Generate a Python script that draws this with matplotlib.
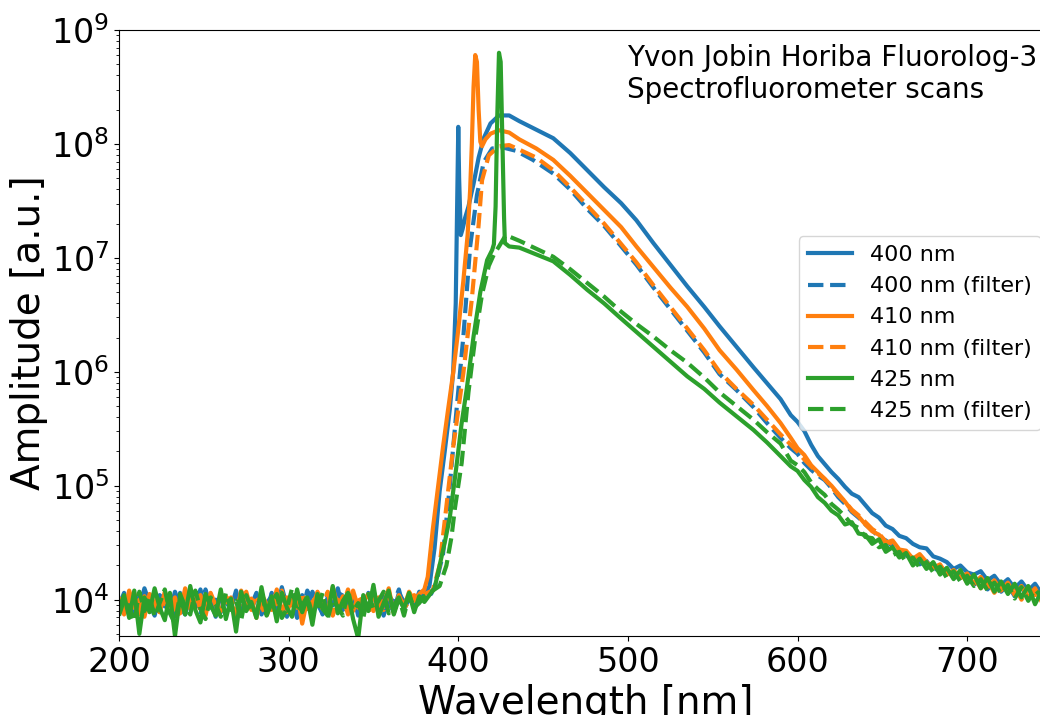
import matplotlib
matplotlib.use("Agg")
import matplotlib.pyplot as plt
import numpy as np

# log10(amplitude), three parts per scan:
# flat noise floor 200-380 nm, main emission band, noisy tail 600-744 nm

# ---- noise floor (even spacing 200..380 nm)
base_400 = [3.95, 4.06, 3.88, 4.02, 3.93, 4.10, 3.97, 3.86, 4.04, 3.99,
            3.90, 4.07, 3.94, 3.87, 4.03, 3.96, 4.09, 3.91, 4.00, 3.85,
            4.05, 3.98, 3.92, 4.08, 3.89, 4.01, 3.95, 4.06, 3.87, 3.97,
            4.03, 3.90, 4.11, 3.94, 3.99, 3.84, 4.04, 3.92, 4.07, 3.96,
            3.88, 4.02, 3.95, 4.10, 3.91, 3.98, 4.05, 3.86, 4.00, 3.93,
            4.08, 3.89, 4.03, 3.96, 3.90, 4.06, 3.98, 4.02, 3.94, 4.07, 4.04]
base_400f = [3.90, 4.03, 3.96, 3.86, 4.08, 3.92, 4.01, 3.88, 4.05, 3.94,
             3.99, 3.85, 4.06, 3.91, 4.02, 3.97, 3.87, 4.09, 3.93, 4.00,
             3.89, 4.04, 3.95, 3.86, 4.07, 3.98, 3.91, 4.03, 3.96, 3.88,
             4.06, 3.93, 4.00, 3.85, 4.04, 3.97, 3.90, 4.08, 3.94, 4.01,
             3.87, 4.05, 3.92, 3.99, 4.07, 3.89, 4.02, 3.95, 3.88, 4.06,
             3.93, 4.00, 3.86, 4.04, 3.97, 4.09, 3.91, 4.01, 3.95, 4.03, 4.06]
base_410 = [3.97, 3.87, 4.08, 3.93, 4.00, 3.85, 4.05, 3.96, 3.89, 4.07,
            3.94, 4.02, 3.88, 4.10, 3.92, 3.99, 4.04, 3.86, 4.06, 3.95,
            3.90, 4.03, 3.97, 3.87, 4.08, 3.93, 4.01, 3.84, 4.05, 3.96,
            3.91, 4.09, 3.88, 4.02, 3.95, 4.06, 3.79, 4.00, 3.92, 4.07,
            3.97, 3.89, 4.11, 3.94, 4.03, 3.87, 4.08, 3.93, 3.98, 4.05,
            3.90, 4.02, 3.96, 4.10, 3.88, 4.04, 3.93, 4.07, 3.99, 4.05, 4.09]
base_410f = [4.02, 3.91, 3.98, 4.06, 3.87, 4.03, 3.94, 4.08, 3.89, 3.99,
             4.05, 3.92, 3.86, 4.04, 3.97, 4.09, 3.90, 4.01, 3.95, 3.88,
             4.06, 3.93, 4.02, 3.87, 3.99, 4.07, 3.91, 4.04, 3.94, 3.85,
             4.03, 3.96, 4.08, 3.89, 4.01, 3.93, 4.06, 3.88, 3.98, 4.04,
             3.92, 4.07, 3.86, 4.00, 3.95, 4.09, 3.90, 4.03, 3.94, 3.87,
             4.05, 3.97, 3.91, 4.06, 3.89, 4.02, 3.96, 3.93, 4.04, 4.00, 4.05]
base_425 = [3.92, 4.04, 3.84, 4.08, 3.70, 4.02, 3.89, 4.10, 3.93, 3.82,
            4.06, 3.68, 4.03, 3.87, 4.12, 3.91, 3.80, 4.05, 3.95, 3.86,
            4.09, 3.83, 4.01, 3.72, 4.07, 3.90, 3.98, 3.84, 4.11, 3.88,
            4.03, 3.81, 4.06, 3.93, 3.85, 4.09, 3.89, 4.02, 3.78, 4.05,
            3.92, 3.86, 4.12, 3.88, 3.99, 4.06, 3.83, 3.66, 4.04, 3.90,
            4.13, 3.85, 3.97, 4.08, 3.87, 4.01, 3.92, 4.06, 3.89, 4.03, 3.98]
base_425f = [3.86, 4.00, 3.93, 3.81, 4.07, 3.90, 4.03, 3.85, 3.97, 4.09,
             3.88, 3.79, 4.05, 3.94, 3.87, 4.08, 3.92, 3.83, 4.02, 3.96,
             3.85, 4.06, 3.91, 3.99, 3.82, 4.04, 3.93, 3.88, 4.07, 3.86,
             3.97, 4.05, 3.84, 3.92, 4.10, 3.89, 3.95, 4.03, 3.87, 3.91,
             4.06, 3.83, 4.00, 3.94, 3.86, 4.08, 3.90, 3.97, 3.84, 4.05,
             3.92, 3.99, 4.07, 3.88, 3.95, 4.02, 3.86, 4.04, 3.93, 3.97, 4.03]

# ---- main band (wavelength nm, log10 amplitude)
wl_400 = [383, 386, 389, 392, 395, 397, 398.5, 399.5, 400, 400.5, 401.5, 402.5,
          404, 406, 409, 412, 415, 419, 424, 430, 436, 444, 456, 466, 476,
          486, 496, 505, 515, 525, 535, 545, 554, 564, 574, 582, 590, 596]
amp_400 = [4.12, 4.45, 4.95, 5.30, 5.67, 6.00, 6.60, 7.60, 8.15, 7.70, 7.20, 7.25,
           7.35, 7.45, 7.65, 7.88, 8.05, 8.18, 8.25, 8.25, 8.20, 8.14, 8.05, 7.92, 7.77,
           7.62, 7.48, 7.33, 7.13, 6.94, 6.75, 6.57, 6.40, 6.22, 6.04, 5.90, 5.76, 5.62]

wl_400f = [384, 387, 391, 395, 399, 403, 407, 411, 415, 420, 426, 434, 444,
           456, 466, 476, 486, 495, 505, 515, 525, 535, 545, 554, 564, 574,
           582, 590, 596]
amp_400f = [4.05, 4.15, 4.40, 5.00, 5.67, 6.31, 7.10, 7.55, 7.84, 7.96, 7.97, 7.94, 7.86,
            7.74, 7.60, 7.43, 7.28, 7.12, 6.94, 6.74, 6.55, 6.36, 6.17, 5.98, 5.84, 5.69,
            5.55, 5.42, 5.33]

wl_410 = [382, 385, 388, 391, 394, 397, 400, 403, 405.5, 407, 408, 409, 410,
          411, 412, 413, 414, 416, 419, 424, 430, 436, 446, 456, 466, 476,
          486, 496, 505, 515, 525, 535, 545, 554, 564, 574, 582, 590, 596]
amp_410 = [4.20, 4.62, 4.98, 5.34, 5.67, 5.99, 6.37, 6.80, 7.20, 7.60, 8.00, 8.50, 8.78,
           8.72, 8.30, 8.02, 7.98, 8.04, 8.09, 8.12, 8.10, 8.04, 7.96, 7.86, 7.72, 7.57,
           7.42, 7.27, 7.10, 6.92, 6.74, 6.57, 6.38, 6.19, 6.02, 5.84, 5.70, 5.55, 5.42]

wl_410f = [385, 389, 392, 397, 403, 408, 412, 414, 418, 424, 430, 436, 446,
           456, 466, 476, 486, 495, 505, 515, 525, 535, 545, 554, 564, 574,
           582, 590, 596]
amp_410f = [4.08, 4.30, 4.69, 5.34, 5.99, 6.64, 7.29, 7.68, 7.90, 7.98, 7.99, 7.95, 7.88,
            7.77, 7.62, 7.46, 7.30, 7.14, 6.96, 6.76, 6.57, 6.38, 6.19, 6.00, 5.85, 5.71,
            5.58, 5.45, 5.36]

wl_425 = [386, 389, 392, 395, 399, 402, 405, 409, 413, 417, 420, 421, 422,
          423, 424, 425, 426, 427, 427.5, 430, 436, 446, 456, 466, 476, 486,
          495, 505, 515, 525, 535, 545, 554, 564, 574, 582, 590, 596]
amp_425 = [4.10, 4.30, 4.50, 4.72, 5.18, 5.55, 5.85, 6.31, 6.70, 6.98, 7.07, 7.12, 7.45,
           8.25, 8.80, 8.72, 8.05, 7.35, 7.13, 7.10, 7.09, 7.03, 6.97, 6.85, 6.72, 6.60,
           6.48, 6.35, 6.22, 6.09, 5.96, 5.85, 5.73, 5.61, 5.49, 5.38, 5.26, 5.17]

wl_425f = [389, 393, 396, 398, 402, 406, 410, 414, 418, 421, 424, 428, 436,
           446, 456, 466, 476, 486, 495, 505, 515, 525, 535, 545, 554, 564,
           574, 582, 590, 596]
amp_425f = [4.12, 4.30, 4.55, 4.80, 5.20, 5.82, 6.30, 6.68, 6.93, 7.03, 7.10, 7.20, 7.15,
            7.08, 7.01, 6.90, 6.78, 6.66, 6.54, 6.42, 6.31, 6.19, 6.08, 5.95, 5.82, 5.70,
            5.58, 5.47, 5.37, 5.22]

# ---- tail (even spacing 600..744 nm)
tail_400 = [5.56, 5.48, 5.36, 5.26, 5.19, 5.12, 5.06, 4.99, 4.93, 4.90, 4.83, 4.76,
            4.72, 4.65, 4.62, 4.56, 4.54, 4.49, 4.46, 4.45, 4.38, 4.36, 4.33, 4.27,
            4.30, 4.24, 4.22, 4.25, 4.17, 4.21, 4.13, 4.18, 4.10, 4.16, 4.08, 4.14, 4.05]
tail_400f = [5.28, 5.20, 5.14, 5.09, 5.05, 4.98, 4.90, 4.84, 4.77, 4.72, 4.66, 4.61,
             4.55, 4.52, 4.47, 4.43, 4.39, 4.35, 4.31, 4.34, 4.26, 4.29, 4.21, 4.25,
             4.17, 4.21, 4.13, 4.18, 4.09, 4.16, 4.07, 4.13, 4.03, 4.11, 4.01, 4.08, 4.03]
tail_410 = [5.33, 5.27, 5.18, 5.12, 5.06, 5.00, 4.93, 4.86, 4.78, 4.73, 4.66, 4.60,
            4.57, 4.50, 4.52, 4.44, 4.43, 4.36, 4.40, 4.33, 4.28, 4.31, 4.22, 4.26,
            4.19, 4.23, 4.14, 4.20, 4.11, 4.17, 4.08, 4.15, 4.04, 4.12, 4.02, 4.10, 3.98]
tail_410f = [5.30, 5.23, 5.17, 5.11, 5.06, 4.99, 4.92, 4.86, 4.79, 4.74, 4.68, 4.62,
             4.58, 4.51, 4.49, 4.43, 4.41, 4.34, 4.37, 4.29, 4.32, 4.24, 4.27, 4.19,
             4.24, 4.15, 4.20, 4.10, 4.17, 4.06, 4.14, 4.08, 4.12, 4.00, 4.10, 4.04, 4.07]
tail_425 = [5.13, 5.05, 4.99, 4.90, 4.85, 4.78, 4.74, 4.66, 4.68, 4.58, 4.57, 4.49,
            4.53, 4.42, 4.46, 4.37, 4.41, 4.30, 4.36, 4.27, 4.33, 4.22, 4.28, 4.18,
            4.26, 4.14, 4.22, 4.10, 4.19, 4.07, 4.16, 4.05, 4.14, 4.02, 4.12, 3.96, 4.08]
tail_425f = [5.18, 5.12, 5.03, 4.97, 4.92, 4.84, 4.79, 4.73, 4.66, 4.63, 4.55, 4.54,
             4.46, 4.48, 4.39, 4.42, 4.33, 4.37, 4.28, 4.33, 4.24, 4.29, 4.19, 4.25,
             4.16, 4.21, 4.12, 4.18, 4.08, 4.15, 4.05, 4.13, 4.01, 4.11, 3.99, 4.09, 4.02]

labels = ["400 nm", "400 nm (filter)", "410 nm", "410 nm (filter)",
          "425 nm", "425 nm (filter)"]


def scan(base, wl, amp, tail):
    x = np.concatenate([np.linspace(200, 380, len(base)), wl,
                        np.linspace(600, 744, len(tail))])
    y = 10.0 ** np.concatenate([base, amp, tail])
    return x, y


scans = [
    scan(base_400, wl_400, amp_400, tail_400),
    scan(base_400f, wl_400f, amp_400f, tail_400f),
    scan(base_410, wl_410, amp_410, tail_410),
    scan(base_410f, wl_410f, amp_410f, tail_410f),
    scan(base_425, wl_425, amp_425, tail_425),
    scan(base_425f, wl_425f, amp_425f, tail_425f),
]
colors = ["C0", "C0", "C1", "C1", "C2", "C2"]
styles = ["-", "--", "-", "--", "-", "--"]

fig = plt.figure(figsize=(10.4, 7.15), dpi=100)
ax = fig.add_axes([119 / 1040, 79 / 715, 933 / 1040, 606 / 715])

for (x, y), c, ls, lab in zip(scans, colors, styles, labels):
    ax.plot(x, y, ls, color=c, lw=3, label=lab)

ax.set_yscale("log")
ax.set_xlim(200, 750)
ax.set_ylim(4.8e3, 1e9)
ax.set_xlabel("Wavelength [nm]", fontsize=28)
ax.set_ylabel("Amplitude [a.u.]", fontsize=28, labelpad=2)
ax.tick_params(labelsize=24)
ax.text(0.545, 0.977, "Yvon Jobin Horiba Fluorolog-3\nSpectrofluorometer scans",
        transform=ax.transAxes, ha="left", va="top", fontsize=20)
ax.legend(loc="center right", fontsize=16)

fig.savefig("out.png", dpi=100)
